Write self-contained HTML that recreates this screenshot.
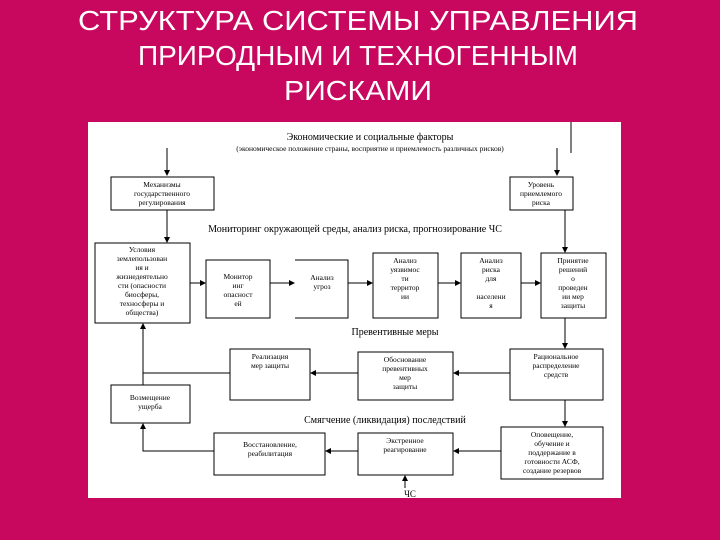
<!DOCTYPE html>
<html><head><meta charset="utf-8"><style>
html,body{margin:0;padding:0;background:#c8075f;width:720px;height:540px;overflow:hidden}
svg{display:block}
text{font-family:"Liberation Serif",serif;fill:#000}
.t{font-family:"Liberation Sans",sans-serif;fill:#fff;font-size:28px}
.s{font-size:7.5px}
</style></head><body>
<svg width="720" height="540" viewBox="0 0 720 540" xmlns="http://www.w3.org/2000/svg">
<defs><marker id="a" markerWidth="6" markerHeight="6" refX="5" refY="3" orient="auto" markerUnits="userSpaceOnUse"><path d="M0,0 L6,3 L0,6 z" fill="#000"/></marker></defs>
<text class="t" x="358" y="30" text-anchor="middle" textLength="560" lengthAdjust="spacingAndGlyphs">СТРУКТУРА СИСТЕМЫ УПРАВЛЕНИЯ</text>
<text class="t" x="358" y="65" text-anchor="middle" textLength="440" lengthAdjust="spacingAndGlyphs">ПРИРОДНЫМ И ТЕХНОГЕННЫМ</text>
<text class="t" x="358" y="100" text-anchor="middle" textLength="148" lengthAdjust="spacingAndGlyphs">РИСКАМИ</text>
<rect x="88" y="122" width="533" height="376" fill="#fff"/>
<g stroke="#000" stroke-width="1" fill="none">
<line x1="571" y1="122" x2="571" y2="153"/>
<line x1="167" y1="148" x2="167" y2="175" marker-end="url(#a)"/>
<line x1="557" y1="148" x2="557" y2="175" marker-end="url(#a)"/>
<rect x="111" y="177" width="103" height="33"/>
<rect x="510" y="177" width="63" height="33"/>
<line x1="167" y1="210" x2="167" y2="242" marker-end="url(#a)"/>
<line x1="565" y1="210" x2="565" y2="252" marker-end="url(#a)"/>
<rect x="95" y="243" width="95" height="80"/>
<rect x="206" y="260" width="64" height="58"/>
<path d="M295,260 H348 V318 H295"/>
<rect x="373" y="253" width="65" height="65"/>
<rect x="461" y="253" width="60" height="65"/>
<rect x="541" y="253" width="65" height="65"/>
<line x1="190" y1="283" x2="205" y2="283" marker-end="url(#a)"/>
<line x1="270" y1="283" x2="294" y2="283" marker-end="url(#a)"/>
<line x1="348" y1="283" x2="372" y2="283" marker-end="url(#a)"/>
<line x1="438" y1="283" x2="460" y2="283" marker-end="url(#a)"/>
<line x1="521" y1="283" x2="540" y2="283" marker-end="url(#a)"/>
<line x1="565" y1="318" x2="565" y2="348" marker-end="url(#a)"/>
<rect x="230" y="349" width="80" height="51"/>
<rect x="358" y="352" width="95" height="48"/>
<rect x="510" y="349" width="93" height="51"/>
<line x1="510" y1="373" x2="454" y2="373" marker-end="url(#a)"/>
<line x1="358" y1="373" x2="311" y2="373" marker-end="url(#a)"/>
<polyline points="230,373 143,373 143,324" marker-end="url(#a)"/>
<line x1="143" y1="373" x2="143" y2="385"/>
<rect x="111" y="385" width="79" height="38"/>
<line x1="565" y1="400" x2="565" y2="426" marker-end="url(#a)"/>
<rect x="214" y="433" width="111" height="42"/>
<rect x="358" y="433" width="95" height="42"/>
<rect x="501" y="427" width="102" height="52"/>
<line x1="501" y1="451" x2="454" y2="451" marker-end="url(#a)"/>
<line x1="358" y1="451" x2="326" y2="451" marker-end="url(#a)"/>
<polyline points="214,451 143,451 143,424" marker-end="url(#a)"/>
<line x1="405" y1="488" x2="405" y2="476" marker-end="url(#a)"/>
</g>
<text x="370" y="140" font-size="10" text-anchor="middle">Экономические и социальные факторы</text>
<text x="370" y="151" font-size="7.5" text-anchor="middle">(экономическое положение страны, восприятие и приемлемость различных рисков)</text>
<g class="s" text-anchor="middle">
<text x="162" y="187">Механизмы</text><text x="162" y="196">государственного</text><text x="162" y="205">регулирования</text>
<text x="541" y="187">Уровень</text><text x="541" y="196">приемлемого</text><text x="541" y="205">риска</text>
<text x="142" y="252">Условия</text><text x="142" y="261">землепользован</text><text x="142" y="270">ия и</text><text x="142" y="279">жизнедеятельно</text><text x="142" y="288">сти (опасности</text><text x="142" y="297">биосферы,</text><text x="142" y="306">техносферы и</text><text x="142" y="315">общества)</text>
<text x="238" y="279">Монитор</text><text x="238" y="288">инг</text><text x="238" y="297">опасност</text><text x="238" y="306">ей</text>
<text x="322" y="280">Анализ</text><text x="322" y="289">угроз</text>
<text x="405" y="263">Анализ</text><text x="405" y="272">уязвимос</text><text x="405" y="281">ти</text><text x="405" y="290">территор</text><text x="405" y="299">ии</text>
<text x="491" y="263">Анализ</text><text x="491" y="272">риска</text><text x="491" y="281">для</text><text x="491" y="299">населени</text><text x="491" y="308">я</text>
<text x="573" y="263">Принятие</text><text x="573" y="272">решений</text><text x="573" y="281">о</text><text x="573" y="290">проведен</text><text x="573" y="299">ии мер</text><text x="573" y="308">защиты</text>
<text x="270" y="359">Реализация</text><text x="270" y="368">мер защиты</text>
<text x="405" y="362">Обоснование</text><text x="405" y="371">превентивных</text><text x="405" y="380">мер</text><text x="405" y="389">защиты</text>
<text x="556" y="359">Рациональное</text><text x="556" y="368">распределение</text><text x="556" y="377">средств</text>
<text x="150" y="400">Возмещение</text><text x="150" y="409">ущерба</text>
<text x="270" y="447">Восстановление,</text><text x="270" y="456">реабилитация</text>
<text x="405" y="443">Экстренное</text><text x="405" y="452">реагирование</text>
<text x="552" y="437">Оповещение,</text><text x="552" y="446">обучение и</text><text x="552" y="455">поддержание в</text><text x="552" y="464">готовности АСФ,</text><text x="552" y="473">создание резервов</text>
</g>
<text x="355" y="232" font-size="10" text-anchor="middle">Мониторинг  окружающей среды, анализ риска, прогнозирование ЧС</text>
<text x="395" y="335" font-size="10" text-anchor="middle">Превентивные меры</text>
<text x="385" y="423" font-size="10" text-anchor="middle">Смягчение (ликвидация) последствий</text>
<text x="410" y="497" font-size="9" text-anchor="middle">ЧС</text>
</svg>
</body></html>
